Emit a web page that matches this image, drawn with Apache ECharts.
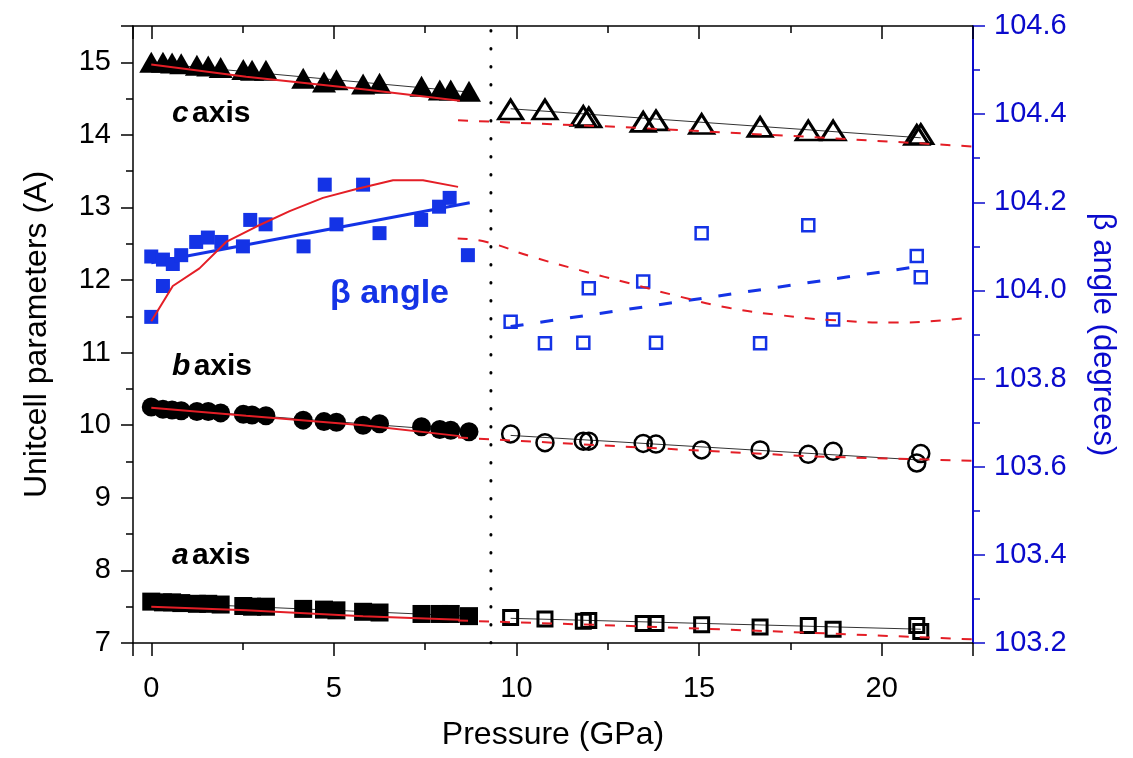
<!DOCTYPE html>
<html>
<head>
<meta charset="utf-8">
<script src="https://cdn.jsdelivr.net/npm/echarts@6/dist/echarts.min.js"></script>
<style>
  html, body { margin: 0; padding: 0; background: #fff; }
  #chart { width: 1133px; height: 758px; }
</style>
</head>
<body>
<div id="chart"></div>
<script>
// low-pressure phase (filled symbols)
const pLow = [0, 0.32, 0.57, 0.82, 1.25, 1.56, 1.9, 2.52, 2.76, 3.14, 4.16, 4.73, 5.07, 5.8, 6.25, 7.4, 7.9, 8.2, 8.7]
const cLow = [15.0, 15.0, 14.99, 14.98, 14.96, 14.95, 14.93, 14.9, 14.89, 14.89, 14.78, 14.73, 14.76, 14.7, 14.71, 14.67, 14.62, 14.62, 14.6]
const bLow = [10.25, 10.22, 10.21, 10.2, 10.19, 10.19, 10.17, 10.15, 10.14, 10.13, 10.07, 10.05, 10.04, 10.0, 10.02, 9.98, 9.94, 9.93, 9.91]
const aLow = [7.57, 7.56, 7.56, 7.55, 7.54, 7.54, 7.53, 7.51, 7.5, 7.5, 7.47, 7.46, 7.45, 7.43, 7.42, 7.4, 7.4, 7.4, 7.37]
const betaLowP = [0, 0, 0.32, 0.32, 0.59, 0.82, 1.23, 1.55, 1.92, 2.51, 2.71, 3.13, 4.17, 4.75, 5.07, 5.8, 6.25, 7.39, 7.88, 8.17, 8.67]
const betaLow = [104.077, 103.94, 104.07, 104.01, 104.06, 104.08, 104.11, 104.12, 104.11, 104.1, 104.16, 104.15, 104.1, 104.24, 104.15, 104.24, 104.13, 104.16, 104.19, 104.21, 104.08]

// high-pressure phase (open symbols)
const pHigh = [9.84, 10.78, 11.83, 11.98, 13.47, 13.82, 15.07, 16.67, 17.99, 18.67, 20.96, 21.07]
const cHigh = [14.35, 14.35, 14.26, 14.24, 14.18, 14.2, 14.15, 14.11, 14.06, 14.06, 14.0, 14.01]
const bHigh = [9.88, 9.76, 9.78, 9.78, 9.75, 9.74, 9.66, 9.66, 9.6, 9.64, 9.48, 9.61]
const aHigh = [7.35, 7.33, 7.3, 7.31, 7.27, 7.27, 7.25, 7.22, 7.24, 7.19, 7.24, 7.16]
const betaHigh = [103.929, 103.88, 103.881, 104.005, 104.02, 103.881, 104.13, 103.88, 104.148, 103.934, 104.078, 104.03]

// linear fits (thin black, blue for beta)
const fitLowP = [0, 8.7]
const cFitLow = [14.99, 14.59]
const bFitLow = [10.24, 9.91]
const aFitLow = [7.56, 7.37]
const fitHighP = [9.84, 21.07]
const cFitHigh = [14.36, 13.96]
const bFitHigh = [9.86, 9.52]
const aFitHigh = [7.34, 7.19]
const betaFitLowP = [0, 8.72]
const betaFitLow = [104.063, 104.199]
const betaFitHighP = [9.84, 21.05]
const betaFitHigh = [103.918, 104.055]

// calculated curves (red)
const theoryLowP = [0, 2.6, 5.8, 8.45]
const cTheoryLow = [14.97, 14.8, 14.63, 14.47]
const bTheoryLow = [10.24, 10.13, 10.0, 9.85]
const aTheoryLow = [7.5, 7.45, 7.37, 7.32]
const theoryHighP = [8.4, 12.8, 18.1, 22.5]
const cTheoryHigh = [14.2, 14.11, 13.97, 13.84]
const bTheoryHigh = [9.83, 9.71, 9.57, 9.51]
const aTheoryHigh = [7.31, 7.24, 7.14, 7.05]
const betaTheoryLowP = [0, 0.59, 1.32, 2.05, 2.88, 3.79, 4.7, 5.62, 6.62, 7.44, 8.4]
const betaTheoryLow = [103.93, 104.01, 104.05, 104.11, 104.145, 104.18, 104.21, 104.23, 104.25, 104.25, 104.235]
const betaTheoryHighP = [8.39, 9.18, 10.36, 11.73, 13.1, 14.47, 15.84, 17.21, 18.58, 20.42, 22.42]
const betaTheoryHigh = [104.118, 104.11, 104.078, 104.046, 104.016, 103.986, 103.96, 103.944, 103.933, 103.927, 103.939]

// phase transition marker
const transitionP = 9.3
const yRange = [7, 15.5]

const FONT = 'Liberation Sans, Arial, sans-serif'
const BLUE = '#0a0acc'
const MARK_BLUE = '#1433e6'
const RED = '#e41e26'

const zip = (xs, ys) => xs.map((x, i) => [x, ys[i]])

const chart = echarts.init(document.getElementById('chart'))

const fitLine = (name, xs, ys, axis, color, width, type) => ({
  name, type: 'line', yAxisIndex: axis, data: zip(xs, ys),
  symbol: 'none', z: 1, silent: true,
  lineStyle: { color, width, type }
})
const redLine = (name, xs, ys, axis, dashed, smooth) => ({
  name, type: 'line', yAxisIndex: axis, data: zip(xs, ys),
  symbol: 'none', z: 4, smooth: smooth || false, silent: true,
  lineStyle: { color: RED, width: 2, type: dashed ? [10, 11] : 'solid' }
})
const filled = (name, xs, ys, axis, symbol, size, color) => ({
  name, type: 'scatter', yAxisIndex: axis, data: zip(xs, ys),
  symbol, symbolSize: size, z: 3,
  itemStyle: { color, opacity: 1 }
})
const open = (name, xs, ys, axis, symbol, size, color, bw) => ({
  name, type: 'scatter', yAxisIndex: axis, data: zip(xs, ys),
  symbol, symbolSize: size, z: 3,
  itemStyle: { color: 'rgba(0,0,0,0)', borderColor: color, borderWidth: bw, opacity: 1 }
})

const tickStyle = color => ({ color, width: 1.5 })

const option = {
  animation: false,
  backgroundColor: '#fff',
  grid: { left: 133, right: 160, top: 26, bottom: 115 },
  xAxis: [
    {
      type: 'value', min: -0.5, max: 22.5, splitNumber: 5, position: 'bottom',
      name: 'Pressure (GPa)', nameLocation: 'middle', nameGap: 76,
      nameTextStyle: { fontFamily: FONT, fontSize: 32, color: '#000' },
      axisLine: { onZero: false, lineStyle: { color: '#000', width: 1.5 } },
      axisTick: { inside: false, length: 13, lineStyle: tickStyle('#000') },
      minorTick: { show: true, splitNumber: 2, length: 7, lineStyle: tickStyle('#000') },
      axisLabel: { fontFamily: FONT, fontSize: 29, color: '#000', margin: 31,
        formatter: v => (Math.abs(v % 5) < 1e-9 ? String(Math.round(v)) : '') },
      splitLine: { show: false }
    },
    {
      type: 'value', min: -0.5, max: 22.5, splitNumber: 5, position: 'top',
      axisLine: { onZero: false, lineStyle: { color: '#000', width: 1.5 } },
      axisTick: { inside: true, length: 13, lineStyle: tickStyle('#000') },
      minorTick: { show: true, splitNumber: 2, length: 7, lineStyle: tickStyle('#000') },
      axisLabel: { show: false },
      splitLine: { show: false }
    }
  ],
  yAxis: [
    {
      type: 'value', min: 7, max: 15.5, interval: 1, position: 'left',
      name: 'Unitcell parameters (A)', nameLocation: 'middle', nameGap: 80,
      nameTextStyle: { fontFamily: FONT, fontSize: 32, color: '#000' },
      axisLine: { show: true, onZero: false, lineStyle: { color: '#000', width: 1.5 } },
      axisTick: { show: true, inside: false, length: 12, lineStyle: tickStyle('#000') },
      minorTick: { show: true, splitNumber: 2, length: 7, lineStyle: tickStyle('#000') },
      axisLabel: { fontFamily: FONT, fontSize: 29, color: '#000', margin: 22,
        formatter: v => (Number.isInteger(v) ? String(v) : '') },
      splitLine: { show: false }
    },
    {
      type: 'value', min: 103.2, max: 104.6, interval: 0.2, position: 'right',
      name: 'β angle (degrees)', nameLocation: 'middle', nameGap: 114, nameRotate: -90,
      nameTextStyle: { fontFamily: FONT, fontSize: 31, color: BLUE },
      axisLine: { show: true, onZero: false, lineStyle: { color: BLUE, width: 2 } },
      axisTick: { show: true, inside: false, length: 12, lineStyle: tickStyle(BLUE) },
      minorTick: { show: true, splitNumber: 2, length: 7, lineStyle: tickStyle(BLUE) },
      axisLabel: { fontFamily: FONT, fontSize: 29, color: BLUE, margin: 21,
        formatter: v => v.toFixed(1) },
      splitLine: { show: false }
    }
  ],
  graphic: [
    { type: 'text', x: 172, y: 114, z: 10, style: {
      text: '{i|c} {n|axis}', verticalAlign: 'middle',
      rich: { i: { fontFamily: FONT, fontSize: 30, fontWeight: 'bold', fontStyle: 'italic', fill: '#000' },
              n: { fontFamily: FONT, fontSize: 30, fontWeight: 'bold', fill: '#000' } } } },
    { type: 'text', x: 172, y: 367, z: 10, style: {
      text: '{i|b} {n|axis}', verticalAlign: 'middle',
      rich: { i: { fontFamily: FONT, fontSize: 30, fontWeight: 'bold', fontStyle: 'italic', fill: '#000' },
              n: { fontFamily: FONT, fontSize: 30, fontWeight: 'bold', fill: '#000' } } } },
    { type: 'text', x: 172, y: 556, z: 10, style: {
      text: '{i|a} {n|axis}', verticalAlign: 'middle',
      rich: { i: { fontFamily: FONT, fontSize: 30, fontWeight: 'bold', fontStyle: 'italic', fill: '#000' },
              n: { fontFamily: FONT, fontSize: 30, fontWeight: 'bold', fill: '#000' } } } },
    { type: 'text', x: 330, y: 294, z: 10, style: {
      text: 'β angle', verticalAlign: 'middle',
      font: 'bold 34px ' + FONT, fill: MARK_BLUE } }
  ],
  series: [
    // transition line
    {
      name: 'transition', type: 'line', data: [[transitionP, yRange[0]], [transitionP, yRange[1]]],
      symbol: 'none', z: 2, silent: true,
      lineStyle: { color: '#000', width: 3, type: [0.5, 17.5], cap: 'round' }
    },
    // black / blue fits
    fitLine('c fit LP', fitLowP, cFitLow, 0, '#333', 1),
    fitLine('b fit LP', fitLowP, bFitLow, 0, '#333', 1),
    fitLine('a fit LP', fitLowP, aFitLow, 0, '#333', 1),
    fitLine('c fit HP', fitHighP, cFitHigh, 0, '#333', 1),
    fitLine('b fit HP', fitHighP, bFitHigh, 0, '#333', 1),
    fitLine('a fit HP', fitHighP, aFitHigh, 0, '#333', 1),
    fitLine('beta fit LP', betaFitLowP, betaFitLow, 1, MARK_BLUE, 3, 'solid'),
    fitLine('beta fit HP', betaFitHighP, betaFitHigh, 1, MARK_BLUE, 3, [13, 17]),
    // data points
    filled('c LP', pLow, cLow, 0, 'triangle', [24, 21], '#000'),
    filled('b LP', pLow, bLow, 0, 'circle', 19, '#000'),
    filled('a LP', pLow, aLow, 0, 'rect', 18, '#000'),
    filled('beta LP', betaLowP, betaLow, 1, 'rect', 14, MARK_BLUE),
    open('c HP', pHigh, cHigh, 0, 'triangle', [24, 19], '#000', 3),
    open('b HP', pHigh, bHigh, 0, 'circle', 17, '#000', 2.5),
    open('a HP', pHigh, aHigh, 0, 'rect', 14, '#000', 3),
    open('beta HP', pHigh, betaHigh, 1, 'rect', 12, MARK_BLUE, 2.5),
    // calculated curves
    redLine('c calc LP', theoryLowP, cTheoryLow, 0, false),
    redLine('b calc LP', theoryLowP, bTheoryLow, 0, false),
    redLine('a calc LP', theoryLowP, aTheoryLow, 0, false),
    redLine('beta calc LP', betaTheoryLowP, betaTheoryLow, 1, false),
    redLine('c calc HP', theoryHighP, cTheoryHigh, 0, true),
    redLine('b calc HP', theoryHighP, bTheoryHigh, 0, true),
    redLine('a calc HP', theoryHighP, aTheoryHigh, 0, true),
    redLine('beta calc HP', betaTheoryHighP, betaTheoryHigh, 1, true, true)
  ]
}

chart.setOption(option)
</script>
</body>
</html>
